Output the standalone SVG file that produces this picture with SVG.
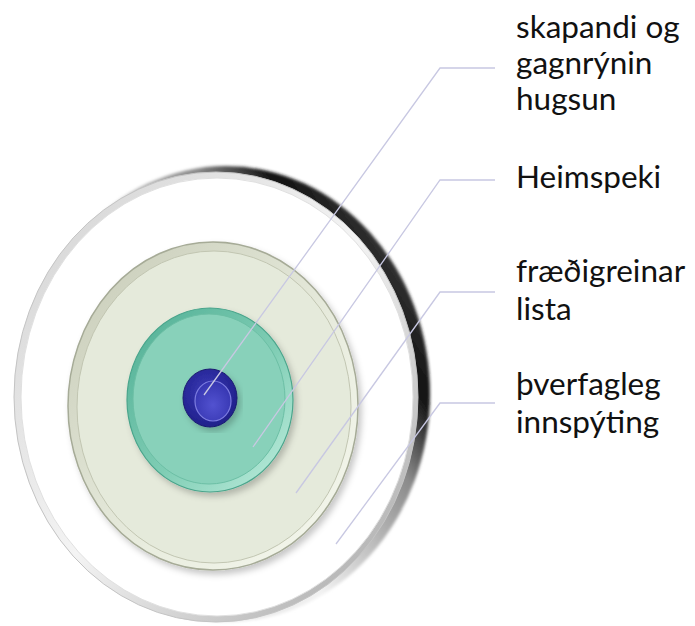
<svg xmlns="http://www.w3.org/2000/svg" width="695" height="626" viewBox="0 0 695 626">
<defs>
  <linearGradient id="rimGrad" x1="0.1" y1="0.9" x2="0.95" y2="0.25">
    <stop offset="0" stop-color="#d4d4d4"/>
    <stop offset="0.45" stop-color="#f2f2f2"/>
    <stop offset="0.75" stop-color="#8a8a8a"/>
    <stop offset="0.88" stop-color="#111"/>
    <stop offset="1" stop-color="#333"/>
  </linearGradient>
  <linearGradient id="faceEdge" x1="0" y1="0" x2="1" y2="1">
    <stop offset="0" stop-color="#d0d0d0"/>
    <stop offset="0.5" stop-color="#f4f4f4"/>
    <stop offset="1" stop-color="#a0a0a0"/>
  </linearGradient>
  <linearGradient id="greenEdge" x1="0" y1="0" x2="1" y2="1">
    <stop offset="0" stop-color="#c6cab6"/>
    <stop offset="0.6" stop-color="#e9eddf"/>
    <stop offset="1" stop-color="#f6f8ef"/>
  </linearGradient>
  <linearGradient id="tealEdge" x1="0" y1="0" x2="1" y2="1">
    <stop offset="0" stop-color="#4fae94"/>
    <stop offset="0.55" stop-color="#7fcdb4"/>
    <stop offset="1" stop-color="#c2efe0"/>
  </linearGradient>
  <radialGradient id="blueGrad" cx="0.45" cy="0.4" r="0.6">
    <stop offset="0" stop-color="#3a3ab8"/>
    <stop offset="1" stop-color="#20208a"/>
  </radialGradient>
  <radialGradient id="blueInner" cx="0.5" cy="0.6" r="0.6">
    <stop offset="0" stop-color="#5252d0"/>
    <stop offset="1" stop-color="#3535b0"/>
  </radialGradient>
  <filter id="shadow" x="-10%" y="-10%" width="120%" height="120%">
    <feDropShadow dx="3" dy="4" stdDeviation="3" flood-color="#000" flood-opacity="0.22"/>
  </filter>
  <filter id="blur1" x="-5%" y="-5%" width="110%" height="110%">
    <feGaussianBlur stdDeviation="1.5"/>
  </filter>
  <style>
    .lbl { font-family: Lato, "Noto Sans", "Liberation Sans", sans-serif; font-size: 31.5px; fill: #111; }
    .lead { fill: none; stroke: #c8c8e2; stroke-width: 1.3; }
  </style>
</defs>

<g id="ring-outer">
  <ellipse cx="226" cy="394" rx="204" ry="228" fill="url(#rimGrad)" filter="url(#blur1)"/>
  <ellipse cx="216" cy="397" rx="202" ry="225" fill="url(#faceEdge)" stroke="#c4c4c4" stroke-width="1"/>
  <ellipse cx="217" cy="397" rx="196" ry="219" fill="#ffffff" stroke="#e0e0e0" stroke-width="1"/>
</g>

<g id="ring-fraedigreinar">
  <ellipse cx="213" cy="406" rx="145" ry="164" fill="url(#greenEdge)" stroke="#a6ab97" stroke-width="1.5" filter="url(#shadow)"/>
  <ellipse cx="214" cy="407" rx="137" ry="156" fill="#e5eadb" stroke="#c2c6b2" stroke-width="1"/>
</g>

<g id="ring-heimspeki">
  <ellipse cx="210" cy="400" rx="83" ry="92" fill="url(#tealEdge)" stroke="#4aa58c" stroke-width="1.2" filter="url(#shadow)"/>
  <ellipse cx="209" cy="399" rx="76" ry="85" fill="#88d1ba" stroke="#6cbfa5" stroke-width="1"/>
</g>

<g id="core-skapandi">
  <ellipse cx="210" cy="398" rx="27" ry="29" fill="url(#blueGrad)" stroke="#1a1a70" stroke-width="1" filter="url(#shadow)"/>
  <ellipse cx="213" cy="401" rx="18" ry="20" fill="url(#blueInner)" stroke="#7c7ce0" stroke-width="1.2"/>
</g>

<g id="connectors">
  <polyline class="lead" points="204,395 440,68 495,68"/>
  <polyline class="lead" points="253,447 440,180 495,180"/>
  <polyline class="lead" points="296,493 440,292 495,292"/>
  <polyline class="lead" points="336,544 440,403 495,403"/>
</g>

<g id="labels">
  <text class="lbl" x="516" y="38">skapandi og</text>
  <text class="lbl" x="516" y="74">gagnrýnin</text>
  <text class="lbl" x="516" y="110">hugsun</text>
  <text class="lbl" x="516" y="188">Heimspeki</text>
  <text class="lbl" x="516" y="282">fræðigreinar</text>
  <text class="lbl" x="516" y="320">lista</text>
  <text class="lbl" x="516" y="395">þverfagleg</text>
  <text class="lbl" x="516" y="433">innspýting</text>
</g>
</svg>
